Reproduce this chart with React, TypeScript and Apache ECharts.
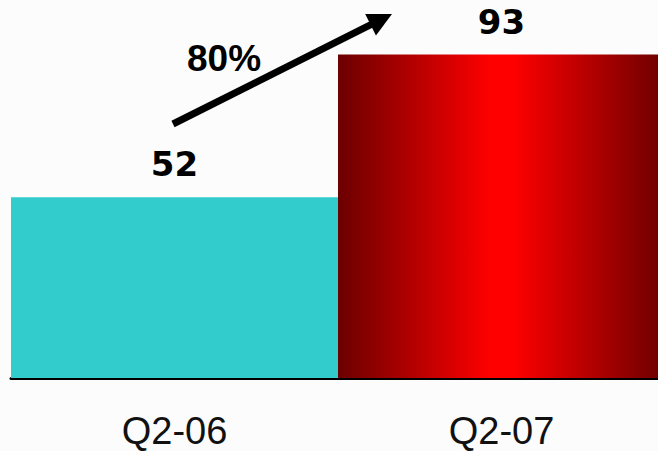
import React, { useEffect, useRef } from "react";
import * as echarts from "echarts";

// Quarter-over-quarter comparison
const categories = ["Q2-06", "Q2-07"];
const values = [52, 93];
const growthLabel = "80%";

const cyanFill = "#33CCCC";
const redFill = {
  type: "linear",
  x: 0,
  y: 0,
  x2: 1,
  y2: 0,
  colorStops: [
    { offset: 0, color: "#6c0000" },
    { offset: 0.47, color: "#ff0000" },
    { offset: 0.53, color: "#ff0000" },
    { offset: 1, color: "#6c0000" },
  ],
};
const barFills = [cyanFill, redFill];

// Arrow geometry (pixels)
const arrowStart = [173, 124];
const arrowTip = [392, 14];
const headLen = 24;
const headHalf = 12;

function arrowGraphics() {
  const dx = arrowTip[0] - arrowStart[0];
  const dy = arrowTip[1] - arrowStart[1];
  const len = Math.sqrt(dx * dx + dy * dy);
  const ux = dx / len;
  const uy = dy / len;
  const nx = -uy;
  const ny = ux;
  const bx = arrowTip[0] - ux * headLen;
  const by = arrowTip[1] - uy * headLen;
  return [
    {
      type: "line",
      shape: { x1: arrowStart[0], y1: arrowStart[1], x2: bx + ux * 2, y2: by + uy * 2 },
      style: { stroke: "#000", lineWidth: 7, lineCap: "butt" },
    },
    {
      type: "polygon",
      shape: {
        points: [
          [arrowTip[0], arrowTip[1]],
          [bx + nx * headHalf, by + ny * headHalf],
          [bx - nx * headHalf, by - ny * headHalf],
        ],
      },
      style: { fill: "#000" },
    },
  ];
}

export default function App() {
  const ref = useRef<HTMLDivElement>(null);

  useEffect(() => {
    if (!ref.current) return;
    const chart = echarts.init(ref.current, null, { renderer: "svg" });
    chart.setOption({
      animation: false,
      backgroundColor: "#fcfcfc",
      grid: { left: 11, right: 0, top: 32, bottom: 73 },
      xAxis: {
        type: "category",
        data: categories,
        axisLine: { show: true, lineStyle: { color: "#000", width: 3 } },
        axisTick: { show: false },
        axisLabel: {
          color: "#111",
          fontFamily: "Liberation Sans, Arial, sans-serif",
          fontSize: 38,
          margin: 34,
        },
      },
      yAxis: {
        type: "value",
        min: 0,
        max: 99.5,
        show: false,
        splitLine: { show: false },
      },
      series: [
        {
          type: "bar",
          barCategoryGap: 0,
          barWidth: "100%",
          data: values.map((v, i) => ({ value: v, itemStyle: { color: barFills[i] } })),
          label: {
            show: true,
            position: "top",
            distance: 16,
            color: "#000",
            fontFamily: "DejaVu Sans, sans-serif",
            fontWeight: "bold",
            fontSize: 34,
          },
        },
      ],
      graphic: [
        ...arrowGraphics(),
        {
          type: "text",
          x: 187,
          y: 58,
          style: {
            text: growthLabel,
            fill: "#000",
            font: "bold 37px 'Liberation Sans', Arial, sans-serif",
            textAlign: "left",
            textVerticalAlign: "middle",
          },
        },
      ],
    });
    return () => chart.dispose();
  }, []);

  return (
    <div
      style={{
        position: "fixed",
        left: 0,
        top: 0,
        width: 658,
        height: 451,
        overflow: "hidden",
        background: "#fcfcfc",
      }}
    >
      <div ref={ref} style={{ width: 665, height: 451 }} />
    </div>
  );
}
